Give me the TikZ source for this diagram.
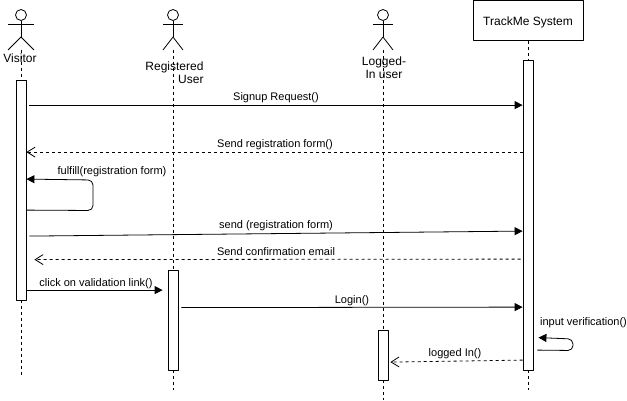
\documentclass[tikz,border=0pt]{standalone}
\usepackage{fontspec}
\setmainfont{Liberation Sans}
\usetikzlibrary{arrows.meta}
\tikzset{
  actorhead/.style={draw,circle,inner sep=0pt,minimum size=11pt,fill=white},
  bar/.style={draw,fill=white,inner sep=0pt,minimum width=10pt},
  lifeline/.style={dashed,dash pattern=on 3pt off 3pt},
  msg/.style={-{Triangle[length=8pt,width=8pt]},rounded corners=5pt},
  reply/.style={dashed,dash pattern=on 3pt off 3pt,-{Straight Barb[length=8pt,width=10pt]}},
  msgtext/.style={font=\fontsize{11}{13}\selectfont,inner sep=0pt,yshift=-0.5pt},
  actortext/.style={font=\fontsize{12}{13.5}\selectfont,inner sep=0pt,align=center},
}
\begin{document}
\begin{tikzpicture}[x=1pt,y=-1pt,line width=0.8pt,line join=bevel]
  \useasboundingbox (0,0) rectangle (627,401);
%%
  % Node: visitor
  \node[actorhead] (visitorhead) at (21,15) {};
  \coordinate (visitorhip) at (21,37);
  \coordinate (visitorfoot) at (21,50);
  \draw (visitorhead) -- (visitorhip);
  \draw (8,24) -- (34,24);
  \draw (8,50) -- (visitorhip) -- (34,50);
  \node[actortext] (visitorlabel) at (20,58.5) {Visitor};
  \node[bar,minimum height=220pt] (visitorbar) at (21,190) {};
  \coordinate (visitorend) at (21,377);
  % Node: registered
  \node[actorhead] (registeredhead) at (173,15) {};
  \coordinate (registeredhip) at (173,37);
  \coordinate (registeredfoot) at (173,50);
  \draw (registeredhead) -- (registeredhip);
  \draw (163,24) -- (183,24);
  \draw (163,50) -- (registeredhip) -- (183,50);
  \node[actortext,align=right] (registeredlabel) at (174.5,72.5) {Registered\\User};
  \node[bar,minimum height=100pt] (registeredbar) at (173,320) {};
  \coordinate (registeredend) at (173,390);
  % Node: logged
  \node[actorhead] (loggedhead) at (383,15) {};
  \coordinate (loggedhip) at (383,37);
  \coordinate (loggedfoot) at (383,50);
  \draw (loggedhead) -- (loggedhip);
  \draw (373,24) -- (393,24);
  \draw (373,50) -- (loggedhip) -- (393,50);
  \node[actortext] (loggedlabel) at (384,67.5) {Logged-\\In user};
  \node[bar,minimum height=50pt] (loggedbar) at (383,355) {};
  \coordinate (loggedend) at (383,400);
  % Node: system
  \node[draw,fill=white,minimum width=110pt,minimum height=40pt,inner sep=0pt,font=\fontsize{12}{14}\selectfont,text depth=0pt,yshift=0pt] (system) at (528,20.5) {\raisebox{-1.5pt}{TrackMe System}};
  \node[bar,minimum height=310pt] (systembar) at (528,215) {};
  \coordinate (systemend) at (528,390);
  % Lifelines
  \draw[lifeline] (visitorfoot) -- (visitorbar.north);
  \draw[lifeline] (visitorbar.south) -- (visitorend);
  \draw[lifeline] (registeredfoot) -- (registeredbar.north);
  \draw[lifeline] (registeredbar.south) -- (registeredend);
  \draw[lifeline] (loggedfoot) -- (loggedbar.north);
  \draw[lifeline] (loggedbar.south) -- (loggedend);
  \draw[lifeline] (system) -- (systembar.north);
  \draw[lifeline] (systembar.south) -- (systemend);
  % Edge: visitor -> system
  \draw[msg] ([shift={(3,25.5)}]visitorbar.north east) -- ([shift={(0,45.5)}]systembar.north west);
  \node[msgtext] (signup) at (276,97) {Signup Request()};
  % Edge: system -> visitor
  \draw[reply] ([shift={(0,92.5)}]systembar.north west) -- ([shift={(0,72.5)}]visitorbar.north east);
  \node[msgtext] (sendform) at (275,144) {Send registration form()};
  % Edge: visitor -> visitor
  \draw[msg] ([shift={(0,130.5)}]visitorbar.north east) -- (93,210.5) -- (93,180) -- ([shift={(0,99.5)}]visitorbar.north east);
  \node[msgtext] (fulfill) at (112,171) {fulfill(registration form)};
  % Edge: visitor -> system
  \draw[msg] ([shift={(3,156.5)}]visitorbar.north east) -- ([shift={(0,171.5)}]systembar.north west);
  \node[msgtext] (sendback) at (276,225) {send (registration form)};
  % Edge: system -> visitor
  \draw[reply] ([shift={(-2,199.5)}]systembar.north west) -- ([shift={(8,180)}]visitorbar.north east);
  \node[msgtext] (confirm) at (276,251) {Send confirmation email};
  % Edge: visitor -> registered
  \draw[msg] ([shift={(0,210.5)}]visitorbar.north east) -- ([shift={(-5,20.5)}]registeredbar.north west);
  \node[msgtext] (click) at (96,283) {click on validation link()};
  % Edge: registered -> system
  \draw[msg] ([shift={(3,38)}]registeredbar.north east) -- ([shift={(0,247.5)}]systembar.north west);
  \node[msgtext] (login) at (352,300) {Login()};
  % Edge: system -> system
  \draw[msg] ([shift={(4,290.5)}]systembar.north east) -- (573,350.5) -- (573,339) -- ([shift={(5,278)}]systembar.north east);
  \node[msgtext] (verify) at (583.5,322) {input verification()};
  % Edge: system -> logged
  \draw[reply] ([shift={(0,300.5)}]systembar.north west) -- ([shift={(2,32.5)}]loggedbar.north east);
  \node[msgtext] (loggedin) at (455,353) {logged In()};
%
\end{tikzpicture}
\end{document}
